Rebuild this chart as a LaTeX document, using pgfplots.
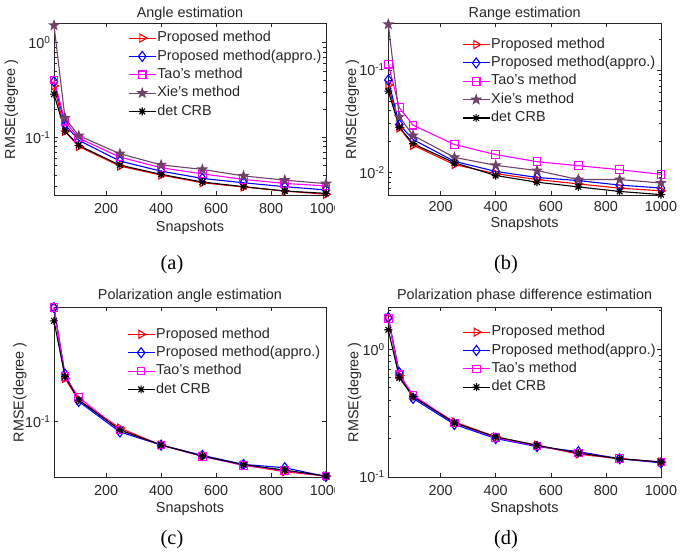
\documentclass[border=0pt]{standalone}
\usepackage{fontspec}
\setmainfont{Liberation Sans}
\newfontfamily\capfont{Liberation Serif}
\usepackage{pgfplots}
\pgfplotsset{compat=1.18}

\definecolor{xiecol}{RGB}{112,66,106}
\definecolor{mag}{RGB}{255,0,255}
\definecolor{txt}{RGB}{38,38,38}

% filled five-point star and eight-arm asterisk, as in the original figure
\pgfdeclareplotmark{pentagram}{%
  \pgfpathmoveto{\pgfpointpolar{90}{\pgfplotmarksize}}%
  \pgfpathlineto{\pgfpointpolar{126}{0.4\pgfplotmarksize}}%
  \pgfpathlineto{\pgfpointpolar{162}{\pgfplotmarksize}}%
  \pgfpathlineto{\pgfpointpolar{198}{0.4\pgfplotmarksize}}%
  \pgfpathlineto{\pgfpointpolar{234}{\pgfplotmarksize}}%
  \pgfpathlineto{\pgfpointpolar{270}{0.4\pgfplotmarksize}}%
  \pgfpathlineto{\pgfpointpolar{306}{\pgfplotmarksize}}%
  \pgfpathlineto{\pgfpointpolar{342}{0.4\pgfplotmarksize}}%
  \pgfpathlineto{\pgfpointpolar{18}{\pgfplotmarksize}}%
  \pgfpathlineto{\pgfpointpolar{54}{0.4\pgfplotmarksize}}%
  \pgfpathclose
  \pgfusepathqfillstroke}
\pgfdeclareplotmark{ast8}{%
  \pgfpathmoveto{\pgfqpoint{-\pgfplotmarksize}{0pt}}\pgfpathlineto{\pgfqpoint{\pgfplotmarksize}{0pt}}%
  \pgfpathmoveto{\pgfqpoint{0pt}{-\pgfplotmarksize}}\pgfpathlineto{\pgfqpoint{0pt}{\pgfplotmarksize}}%
  \pgfpathmoveto{\pgfpointpolar{45}{\pgfplotmarksize}}\pgfpathlineto{\pgfpointpolar{225}{\pgfplotmarksize}}%
  \pgfpathmoveto{\pgfpointpolar{135}{\pgfplotmarksize}}\pgfpathlineto{\pgfpointpolar{315}{\pgfplotmarksize}}%
  \pgfusepathqstroke}

\newcommand\fs{\fontsize{14.4}{17}\selectfont}

\tikzset{
  propm/.style={red, mark=triangle, mark size=4.6pt, mark options={rotate=-90, solid}},
  apprm/.style={blue, mark=diamond, mark size=5pt, mark options={solid}},
  taom/.style={mag, mark=square, mark size=3.8pt, mark options={solid}},
  xiem/.style={xiecol, mark=pentagram, mark size=4.6pt, mark options={solid, fill=xiecol}},
  crbm/.style={black, mark=ast8, mark size=4pt, mark options={solid}},
}

\pgfplotsset{
  every axis title/.style={at={(0.5,1)}, anchor=base, yshift=5.5pt, font=\fs, text=txt},
  every axis/.append style={
    scale only axis, anchor=north west, clip=false,
    xmin=10, xmax=1000,
    xtick={200,400,600,800,1000}, xticklabels={200,400,600,800,1000},
    font=\fs, tick label style={font=\fs, text=txt},
    xticklabel style={yshift=-5pt},
    label style={font=\fs, text=txt},
    xlabel=Snapshots, ylabel={RMSE(degree )},
    axis line style={black!85, line width=0.6pt},
    tick style={black!85, line width=0.6pt},
    major tick length=4pt, minor tick length=2.5pt,
    ylabel style={anchor=center}, xlabel style={anchor=center},
    legend cell align=left,
    legend style={draw=none, fill=none, anchor=north west, inner sep=0pt,
      row sep=2.65pt, font=\fs, text=txt,
      nodes={inner sep=1pt, text height=10.5pt, text depth=3.2pt}},
  },
  every axis plot/.append style={line width=1.1pt},
  legend image code/.code={\draw[mark repeat=2,mark phase=2,#1] plot coordinates {(0pt,0pt) (13.5pt,0pt) (27pt,0pt)};},
}

\begin{document}
\begin{tikzpicture}[x=1pt,y=1pt]
\useasboundingbox (0,0) rectangle (691,559);

% (a) angle
\begin{axis}[ymode=log, at={(54pt,535.5pt)}, width=272pt, height=171.5pt,
  ymin=0.0245, ymax=1.6, ytick={0.1,1},
  yticklabels={10\textsuperscript{-1},10\textsuperscript{0}},
  minor ytick={0.03,0.04,0.05,0.06,0.07,0.08,0.09,0.2,0.3,0.4,0.5,0.6,0.7,0.8,0.9},
  title={Angle estimation},
  ylabel style={at={(axis description cs:-0.157,0.5)}},
  xlabel style={at={(axis description cs:0.5,-0.192)}},
  legend style={at={(axis description cs:0.272,0.962)}}]
\addplot[propm] coordinates {(10,0.35)(50,0.116)(100,0.080)(250,0.0495)(400,0.0398)(550,0.033)(700,0.0298)(850,0.027)(1000,0.0249)};
\addlegendentry{Proposed method}
\addplot[apprm] coordinates {(10,0.39)(50,0.136)(100,0.093)(250,0.056)(400,0.0438)(550,0.0367)(700,0.033)(850,0.030)(1000,0.0277)};
\addlegendentry{Proposed method(appro.)}
\addplot[taom] coordinates {(10,0.405)(50,0.148)(100,0.098)(250,0.0617)(400,0.0476)(550,0.041)(700,0.0358)(850,0.0325)(1000,0.0305)};
\addlegendentry{Tao's method}
\addplot[xiem] coordinates {(10,1.53)(50,0.16)(100,0.104)(250,0.067)(400,0.051)(550,0.0457)(700,0.039)(850,0.0352)(1000,0.0323)};
\addlegendentry{Xie's method}
\addplot[crbm] coordinates {(10,0.286)(50,0.116)(100,0.082)(250,0.0507)(400,0.0405)(550,0.0336)(700,0.030)(850,0.027)(1000,0.0255)};
\addlegendentry{det CRB}
\end{axis}

% (b) range
\begin{axis}[ymode=log, at={(388.3pt,535.5pt)}, width=272.7pt, height=171.5pt,
  ymin=0.006, ymax=0.285, ytick={0.01,0.1},
  yticklabels={10\textsuperscript{-2},10\textsuperscript{-1}},
  minor ytick={0.007,0.008,0.009,0.02,0.03,0.04,0.05,0.06,0.07,0.08,0.09,0.2},
  title={Range estimation},
  ylabel style={at={(axis description cs:-0.132,0.5)}},
  xlabel style={at={(axis description cs:0.5,-0.166)}},
  xticklabel style={yshift=2pt},
  legend style={at={(axis description cs:0.27,0.924)}}]
\addplot[propm] coordinates {(10,0.0713)(50,0.0272)(100,0.0184)(250,0.0119)(400,0.0097)(550,0.0085)(700,0.0077)(850,0.0070)(1000,0.0066)};
\addlegendentry{Proposed method}
\addplot[apprm] coordinates {(10,0.0798)(50,0.0293)(100,0.0209)(250,0.0128)(400,0.0102)(550,0.0089)(700,0.0083)(850,0.0075)(1000,0.00702)};
\addlegendentry{Proposed method(appro.)}
\addplot[taom] coordinates {(10,0.114)(50,0.0428)(100,0.0289)(250,0.0187)(400,0.0149)(550,0.0127)(700,0.0116)(850,0.0106)(1000,0.00955)};
\addlegendentry{Tao's method}
\addplot[xiem] coordinates {(10,0.28)(50,0.0349)(100,0.0229)(250,0.014)(400,0.0117)(550,0.0104)(700,0.0085)(850,0.0085)(1000,0.00786)};
\addlegendentry{Xie's method}
\addplot[crbm] coordinates {(10,0.0622)(50,0.0276)(100,0.019)(250,0.0124)(400,0.0093)(550,0.0080)(700,0.0072)(850,0.0065)(1000,0.00605)};
\addlegendentry{det CRB}
\end{axis}

% (c) polarization angle
\begin{axis}[ymode=log, at={(54pt,251.5pt)}, width=272pt, height=169.5pt,
  ymin=0.0427, ymax=0.575, ytick={0.1},
  yticklabels={10\textsuperscript{-1}},
  minor ytick={},
  title={Polarization angle estimation},
  title style={yshift=2pt},
  ylabel style={at={(axis description cs:-0.125,0.5)}},
  xlabel style={at={(axis description cs:0.5,-0.189)}},
  legend style={at={(axis description cs:0.268,0.889)}}]
\addplot[propm] coordinates {(10,0.574)(50,0.194)(100,0.139)(250,0.0903)(400,0.0697)(550,0.0589)(700,0.0513)(850,0.0463)(1000,0.0433)};
\addlegendentry{Proposed method}
\addplot[apprm] coordinates {(10,0.574)(50,0.207)(100,0.136)(250,0.0852)(400,0.0697)(550,0.0595)(700,0.0518)(850,0.0492)(1000,0.0430)};
\addlegendentry{Proposed method(appro.)}
\addplot[taom] coordinates {(10,0.574)(50,0.199)(100,0.145)(250,0.0878)(400,0.0697)(550,0.0585)(700,0.0510)(850,0.047)(1000,0.0433)};
\addlegendentry{Tao's method}
\addplot[crbm] coordinates {(10,0.468)(50,0.199)(100,0.139)(250,0.0878)(400,0.0697)(550,0.0589)(700,0.0515)(850,0.0475)(1000,0.0433)};
\addlegendentry{det CRB}
\end{axis}

% (d) polarization phase difference
\begin{axis}[ymode=log, at={(388.3pt,251.5pt)}, width=272.7pt, height=169.5pt,
  ymin=0.1, ymax=2.12, ytick={0.1,1},
  yticklabels={10\textsuperscript{-1},10\textsuperscript{0}},
  minor ytick={0.2,0.3,0.4,0.5,0.6,0.7,0.8,0.9,2},
  title={Polarization phase difference estimation},
  title style={yshift=2pt},
  ylabel style={at={(axis description cs:-0.123,0.5)}},
  xlabel style={at={(axis description cs:0.5,-0.189)}},
  legend style={at={(axis description cs:0.271,0.902)}}]
\addplot[propm] coordinates {(10,1.75)(50,0.621)(100,0.425)(250,0.27)(400,0.206)(550,0.177)(700,0.151)(850,0.139)(1000,0.131)};
\addlegendentry{Proposed method}
\addplot[apprm] coordinates {(10,1.77)(50,0.655)(100,0.412)(250,0.258)(400,0.200)(550,0.173)(700,0.158)(850,0.139)(1000,0.129)};
\addlegendentry{Proposed method(appro.)}
\addplot[taom] coordinates {(10,1.74)(50,0.63)(100,0.438)(250,0.265)(400,0.203)(550,0.175)(700,0.154)(850,0.139)(1000,0.131)};
\addlegendentry{Tao's method}
\addplot[crbm] coordinates {(10,1.42)(50,0.598)(100,0.425)(250,0.265)(400,0.206)(550,0.177)(700,0.154)(850,0.139)(1000,0.131)};
\addlegendentry{det CRB}
\end{axis}

% the left sub-figures are cropped just right of their axes
\fill[white] (335,335) rectangle (345,362);
\fill[white] (335,52) rectangle (345,80);

\begin{scope}[font=\capfont\fontsize{20.4}{24}\selectfont]
\node at (172,294) {(a)};
\node at (506,294) {(b)};
\node at (172,19) {(c)};
\node at (506,19) {(d)};
\end{scope}
\end{tikzpicture}
\end{document}
